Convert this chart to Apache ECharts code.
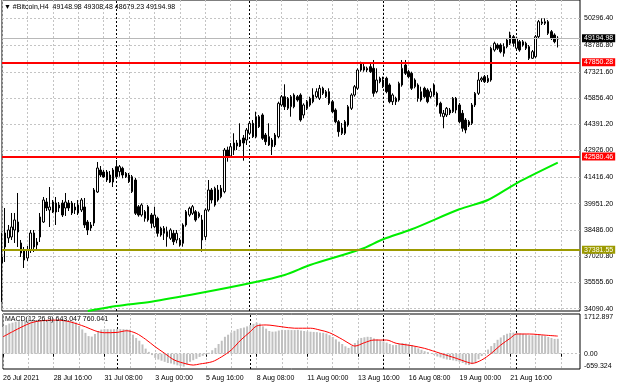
<!DOCTYPE html>
<html><head><meta charset="utf-8">
<script src="https://cdn.jsdelivr.net/npm/echarts@6/dist/echarts.min.js"></script>
<style>html,body{margin:0;padding:0;background:#fff}#c{width:620px;height:388px}</style>
</head><body><div id="c"></div>
<script>
// ---- data ----
const opens=[36972,37531,38034,38090,38481,38928,37755,37363,36917,37363,
38313,37643,38090,38928,40045,39598,40045,39487,39878,39989,
39710,39989,39989,39598,39431,39598,39766,38928,38593,38872,
40604,41833,41721,41274,41554,41163,42018,41738,41928,41648,
41554,40621,41274,39783,39319,39503,39040,39319,38665,39135,
38576,38297,38386,38017,38297,37922,37922,37738,38760,39319,
39414,39503,39224,39040,38107,39598,40716,39878,40157,40811,
40621,42950,42615,42950,43342,43174,43621,43509,43884,44442,
43694,44811,44906,43789,43694,43509,43230,43694,45465,45928,
45280,45370,46023,45928,46023,44906,45649,45465,46023,45928,
45839,46398,45928,46208,45649,45185,44532,44180,43884,44347,
45280,46023,46398,47420,47605,47420,47605,47515,46208,46956,
46487,46956,46582,45649,45839,45744,46582,47699,47325,47236,
46487,46582,45744,46398,46303,45928,46582,46118,45560,44811,
44906,45185,45090,45839,45465,45001,44627,44347,44442,45465,
46118,46861,47046,46767,46861,48537,48817,48817,48722,48722,
48912,49281,48633,49001,48817,48912,48722,48074,48163,49281,
50102,50029,50119,49560,49376,49148.98];
const highs=[38313,39710,38760,39431,39431,40548,37922,37531,37587,38481,
38481,38034,39431,40325,40269,40883,40157,40325,40045,40157,
40548,40157,40102,39989,40157,40269,40269,39040,38928,40827,
42280,42057,41833,41833,41777,41945,42392,42112,42018,41721,
41665,41554,41386,39878,39973,39598,39878,39431,39783,39224,
38665,38704,38665,38576,38481,38481,38034,38855,39598,39783,
39878,39598,39503,39319,39693,41274,40827,40900,40995,40995,
43062,43135,43342,43884,43509,44442,43789,44180,44532,44627,
45090,44906,45001,43900,44442,43621,43900,45649,46023,46621,
45912,46023,46118,46023,46118,45560,45744,45928,46398,46398,
46582,46487,46303,46398,45744,45280,44627,44459,44627,45465,
46118,46582,47515,47884,47794,47605,47794,47979,47515,47046,
47046,47046,46677,46118,45928,46767,47979,47979,47420,47325,
46956,46677,46487,46487,46398,46398,46677,46208,45649,45185,
45353,45297,45912,45912,45576,45185,44738,44627,45576,46191,
47308,47046,47141,47141,48722,49001,48912,48912,48912,49191,
49560,49376,49281,49096,49096,49001,48817,48537,49376,50214,
50309,50309,50214,49655,49471,49308.48];
const lows=[34458,36693,37755,37922,37755,37531,36972,36358,36749,37196,
37252,37363,37810,38872,39542,38649,39431,38760,39487,39207,
39263,39542,39319,39375,39319,39487,38593,38202,38425,38704,
40548,41442,41386,41163,41107,40883,41369,41459,41369,41386,
41107,40548,39319,39224,39224,38945,38945,38576,38593,38107,
38107,37922,37548,37922,37643,37738,37548,37548,38665,39224,
39319,38945,39135,37269,37922,39503,39973,39783,40062,40252,
40531,42297,42504,42671,42950,43118,42353,43230,43789,43621,
43604,44180,43509,43230,43174,42671,43118,43604,45370,45185,
45185,44811,45280,45649,44532,44722,45185,45370,45560,45839,
45744,46023,45856,45465,45018,44442,43694,43789,43789,44252,
45185,45928,46303,47325,47325,47308,47252,45928,46118,46677,
46414,46118,45560,45465,45465,45649,46487,47141,46956,46303,
46398,45649,45649,45839,45560,45839,45928,45370,44811,44163,
44794,44906,45018,45001,44442,43973,43884,44236,44347,45353,
46023,46750,46694,46694,46767,48443,48537,48353,48163,48633,
48817,48722,48537,48443,48722,48537,47979,48035,48074,49191,
49934,49934,49376,49096,48912,48679.23];
const closes=[36637,38313,38481,38649,39040,38369,37196,36805,37363,38313,
37531,37810,39207,40157,39710,39766,39487,39989,39710,39319,
40045,39710,39431,39766,39878,40157,38760,38481,38760,40716,
41945,41554,41442,41721,41163,41833,41459,42018,41554,41459,
41180,41459,39414,39319,39878,39135,39783,38855,39319,38297,
38202,38576,38107,38481,37827,38297,37643,38760,39503,39693,
39783,39040,39414,37922,39598,40716,40157,40811,40716,40341,
42950,42559,43135,43342,43174,43509,43342,44068,44442,43694,
44811,44252,43604,43414,43230,43135,43789,45560,45928,45370,
45839,45928,45370,45744,44627,45465,45280,45839,45649,46208,
46398,46118,46208,45560,45090,44532,43973,43884,44532,45370,
46023,46487,47420,47794,47420,47515,47325,46118,46861,46767,
46861,46208,45649,46023,45649,46677,47515,47236,47046,46398,
46861,45839,46208,45928,45649,46208,46023,45465,45001,45001,
45280,45018,45839,45185,44532,44163,44068,44532,45465,46118,
46861,46956,46767,46956,48633,48912,48633,48443,48353,49096,
49376,48912,49191,48537,49001,48633,48074,48443,49281,50119,
50029,50119,49471,49191,49001,49194.98];
// moving average (green), read at these bar positions
const maBars=[27,36,47,62,78,89,97,113,120,129,144,153,162,175];
const maValues=[33950,34235,34475,34944,35503,35967,36525,37403,37962,38520,39637,40157,41090,42241];
// MACD main (histogram), one per bar
const macdHist=[1150,1230,1300,1340,1380,1400,1410,1430,1440,1450,
1450,1440,1450,1460,1460,1450,1450,1440,1440,1430,
1430,1420,1400,1350,1200,1050,900,760,740,850,
980,1040,1060,1060,1050,1060,1070,1060,1060,1050,
1040,820,680,560,400,220,80,-60,-180,-250,
-300,-350,-400,-420,-460,-500,-530,-560,-470,-350,
-280,-220,-140,-90,-40,40,150,250,420,560,
730,820,920,990,1060,1100,1130,1180,1240,1290,
1340,1300,1180,1080,980,950,960,1000,1030,1020,
1030,1020,1020,1030,1000,980,960,950,940,930,
910,900,870,800,720,620,520,420,320,250,
330,460,580,680,710,730,720,660,620,580,
530,480,420,370,380,420,460,440,410,370,
300,230,170,110,70,10,-50,-120,-160,-210,
-250,-270,-290,-320,-350,-400,-470,-490,-450,-410,
-240,-100,20,180,330,460,600,700,800,860,
900,910,900,880,860,830,800,790,800,810,
790,760,720,680,640,643.047];
// MACD signal (red), read at these bar positions
const signalBars=[0,3,6,9,12,17,21,26,29,32,36,39,42,45,48,51,54,58,60,62,66,69,72,75,78,80,83,88,92,97,100,103,107,110,111,114,117,121,124,129,133,138,143,146,148,151,154,157,160,162,166,171,175];
const signalValues=[730,950,1160,1340,1420,1450,1380,1160,990,905,920,990,880,620,300,15,-270,-445,-490,-445,-345,-130,160,590,950,1195,1240,1160,1100,1100,1020,905,620,375,330,475,590,590,450,345,230,15,-200,-345,-415,-270,15,375,665,850,850,800,760.041];
const priceTicks=[50296.40,48786.80,47321.60,45856.40,44391.20,42926.00,41416.40,39951.20,38486.00,37020.80,35555.60,34090.40];
const macdTicks=[1712.897,0,-659.324];
const timeLabels=["26 Jul 2021","28 Jul 16:00","31 Jul 08:00","3 Aug 00:00","5 Aug 16:00","8 Aug 08:00","11 Aug 00:00","13 Aug 16:00","16 Aug 08:00","19 Aug 00:00","21 Aug 16:00"];
const weekSeparators=[36,78,120,162];
const resistance=[47850.28,42580.46];
const support=[37381.55];
const headerText='▼ #Bitcoin,H4  49148.98 49308.48 48679.23 49194.98';
const macdText='MACD(12,26,9) 643.047 760.041';

// ---- chart ----
const FONT="'Liberation Sans', Arial, sans-serif";
const N_SLOTS=183;
const cats=Array.from({length:N_SLOTS},(_,i)=>String(i));
const dashed={color:'#c4c4c4',type:[2,2],width:1};
const sepStyle={color:'#000',type:[2,2],width:1};
const hidden={color:'rgba(0,0,0,0)',width:0};
const lbl={show:true,position:'end',distance:4,fontSize:7,color:'#000',fontFamily:FONT,padding:0};
const lastClose=closes[closes.length-1];

const chart=echarts.init(document.getElementById('c'),null,{renderer:'canvas'});
const candleData=opens.map((o,i)=>[o,closes[i],lows[i],highs[i]]);

const mainGridLines=priceTicks.map(v=>({yAxis:v,lineStyle:dashed,label:Object.assign({},lbl,{formatter:v.toFixed(2)})}))
 .concat(weekSeparators.map(b=>({xAxis:String(b),lineStyle:sepStyle,label:{show:false}})));

const levelLines=[{yAxis:lastClose,lineStyle:{color:'#b8b8b8',width:1,type:'solid'},
  label:Object.assign({},lbl,{distance:2,formatter:lastClose.toFixed(2),backgroundColor:'#000',color:'#fff',padding:[1,2,0,2]})}]
 .concat(resistance.map(v=>({yAxis:v,lineStyle:{color:'#ff0000',width:2,type:'solid'},
  label:Object.assign({},lbl,{distance:2,formatter:v.toFixed(2),backgroundColor:'#ff0000',color:'#fff',padding:[1,2,0,2]})})))
 .concat(support.map(v=>({yAxis:v,lineStyle:{color:'#9c9a00',width:2,type:'solid'},
  label:Object.assign({},lbl,{distance:2,formatter:v.toFixed(2),backgroundColor:'#9c9a00',color:'#fffff0',padding:[1,2,0,2]})})));

const macdLines=[
 {yAxis:macdTicks[1],lineStyle:dashed,label:Object.assign({},lbl,{formatter:macdTicks[1].toFixed(2)})},
 {yAxis:macdTicks[0],lineStyle:hidden,label:Object.assign({},lbl,{formatter:'{t|'+macdTicks[0].toFixed(3)+'}',rich:{t:{fontSize:7,fontFamily:FONT,color:'#000',padding:[7,0,0,0]}}})},
 {yAxis:macdTicks[2],lineStyle:hidden,label:Object.assign({},lbl,{formatter:'{b|'+macdTicks[2].toFixed(3)+'}',rich:{b:{fontSize:7,fontFamily:FONT,color:'#000',padding:[0,0,5,0]}}})}
].concat(weekSeparators.map(b=>({xAxis:String(b),lineStyle:sepStyle,label:{show:false}})));

const option={
 animation:false,
 backgroundColor:'#fff',
 title:[
  {text:headerText,left:4,top:4,padding:0,textStyle:{fontSize:7,fontWeight:'normal',color:'#000',fontFamily:FONT}},
  {text:macdText,left:5,top:316,padding:0,textStyle:{fontSize:7,fontWeight:'normal',color:'#000',fontFamily:FONT}}
 ],
 grid:[
  {left:2,right:40,top:0,height:311,show:true,borderColor:'#000',borderWidth:1,backgroundColor:'#fff'},
  {left:2,right:40,top:314,height:55,show:true,borderColor:'#000',borderWidth:1,backgroundColor:'#fff'}
 ],
 xAxis:[
  {type:'category',gridIndex:0,data:cats,boundaryGap:false,axisLine:{show:false},axisTick:{show:false},axisLabel:{show:false},
   splitLine:{show:true,interval:(i)=>i%8===0,lineStyle:dashed}},
  {type:'category',gridIndex:1,data:cats,boundaryGap:false,axisLine:{show:false},
   axisTick:{show:true,interval:(i)=>i%16===0,length:3,lineStyle:{color:'#000'}},
   axisLabel:{show:true,interval:(i)=>i%16===0,formatter:(v,i)=>timeLabels[i/16]||'',align:'left',fontSize:7,color:'#000',fontFamily:FONT,margin:6},
   splitLine:{show:true,interval:(i)=>i%8===0,lineStyle:dashed}}
 ],
 yAxis:[
  {type:'value',gridIndex:0,position:'right',min:33955,max:51331,axisLine:{show:false},axisTick:{show:false},axisLabel:{show:false},splitLine:{show:false}},
  {type:'value',gridIndex:1,position:'right',min:-659.324,max:1712.9,axisLine:{show:false},axisTick:{show:false},axisLabel:{show:false},splitLine:{show:false}}
 ],
 series:[
  {type:'line',name:'MA',xAxisIndex:0,yAxisIndex:0,z:2,data:maBars.map((b,i)=>[b,maValues[i]]),
   symbol:'none',smooth:0.3,connectNulls:true,lineStyle:{color:'#00ee00',width:2},clip:true,
   markLine:{silent:true,symbol:'none',z:1,animation:false,data:mainGridLines}},
  {type:'candlestick',name:'BTC',xAxisIndex:0,yAxisIndex:0,z:3,data:candleData,barWidth:2,
   itemStyle:{color:'#ffffff',color0:'#000000',borderColor:'#000000',borderColor0:'#000000',borderWidth:1},
   markLine:{silent:true,symbol:'none',z:10,animation:false,data:levelLines}},
  {type:'bar',name:'MACD',xAxisIndex:1,yAxisIndex:1,data:macdHist,barWidth:2,itemStyle:{color:'#c0c0c0'},z:2,
   markLine:{silent:true,symbol:'none',z:1,animation:false,data:macdLines}},
  {type:'line',name:'Signal',xAxisIndex:1,yAxisIndex:1,z:3,data:signalBars.map((b,i)=>[b,signalValues[i]]),
   symbol:'none',smooth:0.3,lineStyle:{color:'#ff0000',width:1}}
 ]
};
chart.setOption(option);
</script></body></html>
